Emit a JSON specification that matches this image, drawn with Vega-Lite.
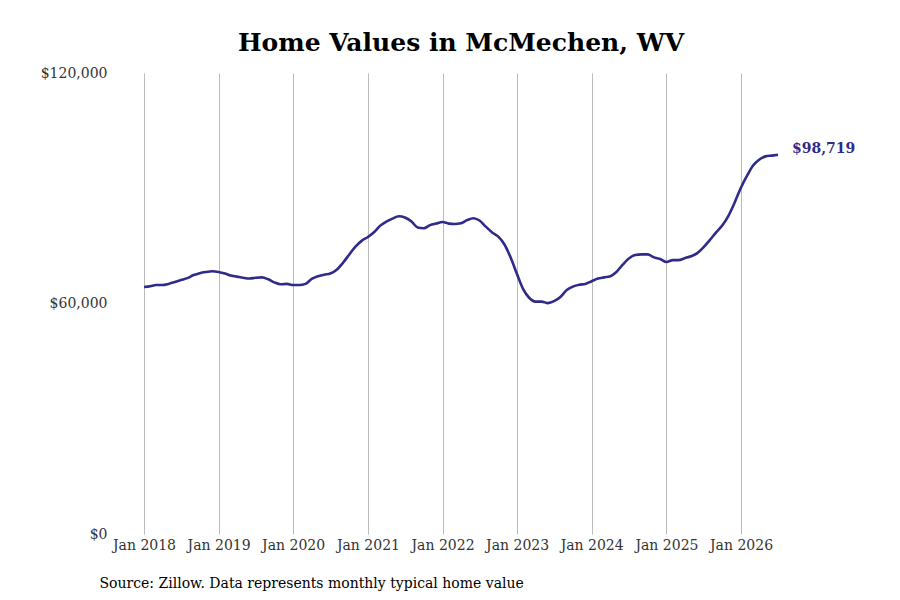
{
  "$schema": "https://vega.github.io/schema/vega-lite/v6.json",
  "autosize": "none",
  "width": 634,
  "height": 461,
  "padding": {"left": 144, "top": 73, "right": 122, "bottom": 66},
  "background": "white",
  "title": {
    "text": "Home Values in McMechen, WV",
    "font": "DejaVu Serif",
    "fontSize": 25,
    "fontWeight": "bold",
    "color": "#000000",
    "offset": 10
  },
  "data": {
    "values": [
      {"date": "2018-01-01", "value": 64290},
      {"date": "2018-02-01", "value": 64500},
      {"date": "2018-03-01", "value": 64800},
      {"date": "2018-04-01", "value": 64800},
      {"date": "2018-05-01", "value": 65100},
      {"date": "2018-06-01", "value": 65600},
      {"date": "2018-07-01", "value": 66100},
      {"date": "2018-08-01", "value": 66600},
      {"date": "2018-09-01", "value": 67400},
      {"date": "2018-10-01", "value": 67900},
      {"date": "2018-11-01", "value": 68200},
      {"date": "2018-12-01", "value": 68400},
      {"date": "2019-01-01", "value": 68200},
      {"date": "2019-02-01", "value": 67800},
      {"date": "2019-03-01", "value": 67300},
      {"date": "2019-04-01", "value": 67000},
      {"date": "2019-05-01", "value": 66700},
      {"date": "2019-06-01", "value": 66500},
      {"date": "2019-07-01", "value": 66700},
      {"date": "2019-08-01", "value": 66800},
      {"date": "2019-09-01", "value": 66300},
      {"date": "2019-10-01", "value": 65500},
      {"date": "2019-11-01", "value": 65000},
      {"date": "2019-12-01", "value": 65100},
      {"date": "2020-01-01", "value": 64800},
      {"date": "2020-02-01", "value": 64800},
      {"date": "2020-03-01", "value": 65100},
      {"date": "2020-04-01", "value": 66400},
      {"date": "2020-05-01", "value": 67100},
      {"date": "2020-06-01", "value": 67500},
      {"date": "2020-07-01", "value": 67800},
      {"date": "2020-08-01", "value": 68800},
      {"date": "2020-09-01", "value": 70600},
      {"date": "2020-10-01", "value": 72700},
      {"date": "2020-11-01", "value": 74800},
      {"date": "2020-12-01", "value": 76300},
      {"date": "2021-01-01", "value": 77300},
      {"date": "2021-02-01", "value": 78600},
      {"date": "2021-03-01", "value": 80200},
      {"date": "2021-04-01", "value": 81300},
      {"date": "2021-05-01", "value": 82100},
      {"date": "2021-06-01", "value": 82700},
      {"date": "2021-07-01", "value": 82400},
      {"date": "2021-08-01", "value": 81400},
      {"date": "2021-09-01", "value": 79800},
      {"date": "2021-10-01", "value": 79600},
      {"date": "2021-11-01", "value": 80400},
      {"date": "2021-12-01", "value": 80800},
      {"date": "2022-01-01", "value": 81200},
      {"date": "2022-02-01", "value": 80800},
      {"date": "2022-03-01", "value": 80700},
      {"date": "2022-04-01", "value": 80900},
      {"date": "2022-05-01", "value": 81700},
      {"date": "2022-06-01", "value": 82200},
      {"date": "2022-07-01", "value": 81600},
      {"date": "2022-08-01", "value": 80000},
      {"date": "2022-09-01", "value": 78500},
      {"date": "2022-10-01", "value": 77400},
      {"date": "2022-11-01", "value": 75300},
      {"date": "2022-12-01", "value": 71900},
      {"date": "2023-01-01", "value": 67600},
      {"date": "2023-02-01", "value": 63600},
      {"date": "2023-03-01", "value": 61500},
      {"date": "2023-04-01", "value": 60500},
      {"date": "2023-05-01", "value": 60500},
      {"date": "2023-06-01", "value": 60100},
      {"date": "2023-07-01", "value": 60600},
      {"date": "2023-08-01", "value": 61700},
      {"date": "2023-09-01", "value": 63500},
      {"date": "2023-10-01", "value": 64400},
      {"date": "2023-11-01", "value": 64900},
      {"date": "2023-12-01", "value": 65100},
      {"date": "2024-01-01", "value": 65800},
      {"date": "2024-02-01", "value": 66500},
      {"date": "2024-03-01", "value": 66800},
      {"date": "2024-04-01", "value": 67100},
      {"date": "2024-05-01", "value": 68200},
      {"date": "2024-06-01", "value": 70100},
      {"date": "2024-07-01", "value": 71700},
      {"date": "2024-08-01", "value": 72600},
      {"date": "2024-09-01", "value": 72800},
      {"date": "2024-10-01", "value": 72800},
      {"date": "2024-11-01", "value": 72000},
      {"date": "2024-12-01", "value": 71600},
      {"date": "2025-01-01", "value": 70800},
      {"date": "2025-02-01", "value": 71300},
      {"date": "2025-03-01", "value": 71300},
      {"date": "2025-04-01", "value": 71800},
      {"date": "2025-05-01", "value": 72300},
      {"date": "2025-06-01", "value": 73100},
      {"date": "2025-07-01", "value": 74600},
      {"date": "2025-08-01", "value": 76500},
      {"date": "2025-09-01", "value": 78500},
      {"date": "2025-10-01", "value": 80300},
      {"date": "2025-11-01", "value": 82900},
      {"date": "2025-12-01", "value": 86300},
      {"date": "2026-01-01", "value": 90200},
      {"date": "2026-02-01", "value": 93400},
      {"date": "2026-03-01", "value": 95900},
      {"date": "2026-04-01", "value": 97500},
      {"date": "2026-05-01", "value": 98300},
      {"date": "2026-06-01", "value": 98500},
      {"date": "2026-07-01", "value": 98719}
    ]
  },
  "encoding": {
    "x": {
      "field": "date",
      "type": "temporal",
      "scale": {"domain": [{"year": 2018, "month": 1, "date": 1}, {"year": 2026, "month": 7, "date": 1}]},
      "axis": {
        "title": "Source: Zillow. Data represents monthly typical home value",
        "titleFont": "DejaVu Serif",
        "titleFontSize": 14,
        "titleFontWeight": "normal",
        "titleColor": "#000000",
        "titleAnchor": "start",
        "titleAlign": "left",
        "titleBaseline": "alphabetic",
        "titleX": -45,
        "titleY": 53,
        "format": "%b %Y",
        "tickCount": {"interval": "year", "step": 1},
        "labelFont": "DejaVu Serif",
        "labelFontSize": 14,
        "labelColor": "#333333",
        "labelFlush": false,
        "labelPadding": 4,
        "labelOverlap": false,
        "domain": false,
        "ticks": false,
        "grid": true,
        "gridColor": "#bbbbbb",
        "gridWidth": 1
      }
    },
    "y": {
      "field": "value",
      "type": "quantitative",
      "scale": {"domain": [0, 120000]},
      "axis": {
        "title": null,
        "values": [0, 60000, 120000],
        "format": "$,.0f",
        "labelFont": "DejaVu Serif",
        "labelFontSize": 14,
        "labelColor": "#333333",
        "labelPadding": 37,
        "domain": false,
        "ticks": false,
        "grid": false
      }
    }
  },
  "layer": [
    {
      "mark": {"type": "line", "color": "#2f2b8a", "strokeWidth": 2.6, "interpolate": "monotone"}
    },
    {
      "transform": [{"filter": {"field": "date", "equal": {"year": 2026, "month": 7, "date": 1}}}],
      "mark": {
        "type": "text",
        "align": "left",
        "baseline": "middle",
        "dx": 14,
        "dy": -6,
        "font": "DejaVu Serif",
        "fontSize": 14,
        "fontWeight": "bold",
        "color": "#2f2b8a"
      },
      "encoding": {
        "text": {"field": "value", "type": "quantitative", "format": "$,.0f"}
      }
    }
  ],
  "config": {
    "view": {"stroke": null}
  }
}
